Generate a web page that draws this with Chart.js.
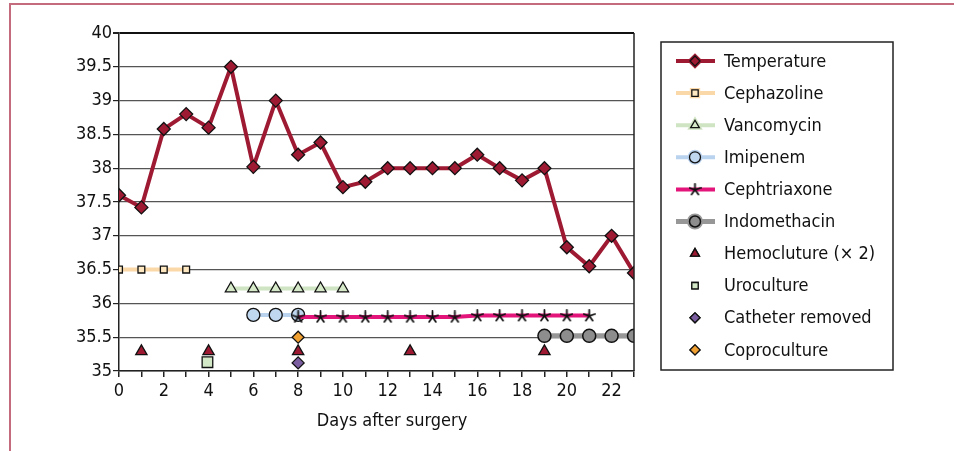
<!DOCTYPE html>
<html>
<head>
<meta charset="utf-8">
<script src="https://cdn.jsdelivr.net/npm/chart.js@4.4.1/dist/chart.umd.min.js"></script>
<style>
  html, body { margin: 0; padding: 0; background: #fff; }
  #wrap { position: relative; width: 954px; height: 451px; }
</style>
</head>
<body>
<div id="wrap"><canvas id="tempChart" width="954" height="451"></canvas></div>
<script>
// days after surgery and readings
const tempDays = [0,1,2,3,4,5,6,7,8,9,10,11,12,13,14,15,16,17,18,19,20,21,22,23];
const temperature = [37.6,37.42,38.58,38.8,38.6,39.5,38.02,39.0,38.2,38.38,37.72,37.8,38.0,38.0,38.0,38.0,38.2,38.0,37.82,38.0,36.83,36.55,37.0,36.45];

const cephazolineDays = [0,1,2,3];
const cephazolineLevel = [36.5,36.5,36.5,36.5];
const vancomycinDays = [5,6,7,8,9,10];
const vancomycinLevel = [36.22,36.22,36.22,36.22,36.22,36.22];
const imipenemDays = [6,7,8];
const imipenemLevel = [35.83,35.83,35.83];
const cephtriaxoneDays = [8,9,10,11,12,13,14,15,16,17,18,19,20,21];
const cephtriaxoneLevel = [35.8,35.8,35.8,35.8,35.8,35.8,35.8,35.8,35.82,35.82,35.82,35.82,35.82,35.82];
const indomethacinDays = [19,20,21,22,23];
const indomethacinLevel = [35.52,35.52,35.52,35.52,35.52];

const hemocultureDays = [1,4,8,13,19];
const hemocultureLevel = [35.29,35.29,35.29,35.29,35.29];
const urocultureDays = [3.95];
const urocultureLevel = [35.13];
const catheterDays = [8];
const catheterLevel = [35.12];
const coprocultureDays = [8];
const coprocultureLevel = [35.5];

const yTicks = [35,35.5,36,36.5,37,37.5,38,38.5,39,39.5,40];
const xLabelStep = 2;

const FONT = "'Liberation Sans Narrow', 'DejaVu Sans Condensed', 'Roboto Condensed', sans-serif";

function pts(days, vals) {
    return days.map((d, i) => ({ x: d, y: vals[i] }));
}

// small five-armed asterisk used for Cephtriaxone
function makeStar() {
    const c = document.createElement('canvas');
    c.width = 13; c.height = 13;
    const g = c.getContext('2d');
    g.strokeStyle = '#111';
    g.lineWidth = 1.8;
    g.lineCap = 'round';
    for (let k = 0; k < 5; k++) {
        const a = -Math.PI / 2 + k * 2 * Math.PI / 5;
        g.beginPath();
        g.moveTo(6.5, 6.8);
        g.lineTo(6.5 + Math.cos(a) * 5.8, 6.8 + Math.sin(a) * 5.8);
        g.stroke();
    }
    return c;
}
const starImg = makeStar();

function lineSet(label, days, vals, color, width, style, radius, fill, extra) {
    return Object.assign({
        label: label,
        data: pts(days, vals),
        showLine: true,
        borderColor: color,
        borderWidth: width,
        pointStyle: style,
        pointRadius: radius,
        pointBackgroundColor: fill,
        pointBorderColor: '#111',
        pointBorderWidth: 1.3,
        pointHoverRadius: radius,
        tension: 0
    }, extra || {});
}

function markSet(label, days, vals, style, radius, fill) {
    return {
        label: label,
        data: pts(days, vals),
        showLine: false,
        borderColor: fill,
        pointStyle: style,
        pointRadius: radius,
        pointBackgroundColor: fill,
        pointBorderColor: '#111',
        pointBorderWidth: 1.3,
        pointHoverRadius: radius
    };
}

const datasets = [
    lineSet('Temperature', tempDays, temperature, '#9e1a33', 4, 'rectRot', 6.5, '#9e1a33', { order: 0 }),
    lineSet('Cephazoline', cephazolineDays, cephazolineLevel, '#fbd8a8', 4, 'rect', 4.8, '#fde8c2', { order: 1 }),
    lineSet('Vancomycin', vancomycinDays, vancomycinLevel, '#cfe4c2', 4, 'triangle', 6.5, '#d6eaca', { order: 1 }),
    lineSet('Imipenem', imipenemDays, imipenemLevel, '#b9d2ee', 4, 'circle', 6.5, '#c0d7f0', { order: 2 }),
    lineSet('Cephtriaxone', cephtriaxoneDays, cephtriaxoneLevel, '#e3157b', 4, starImg, 6, '#111', { order: 1, pointBorderWidth: 0 }),
    lineSet('Indomethacin', indomethacinDays, indomethacinLevel, '#979797', 5, 'circle', 6.5, '#8d8d8d', { order: 1, pointBorderWidth: 1.5 }),
    markSet('Hemocluture (\u00d7 2)', hemocultureDays, hemocultureLevel, 'triangle', 6.5, '#9e1a33'),
    markSet('Uroculture', urocultureDays, urocultureLevel, 'rect', 7.5, '#d3e8c6'),
    markSet('Catheter removed', catheterDays, catheterLevel, 'rectRot', 6, '#7b5ea0'),
    markSet('Coproculture', coprocultureDays, coprocultureLevel, 'rectRot', 6, '#f0a030')
];

// frame, right border of the plot, axis title and the boxed legend
const decorPlugin = {
    id: 'decor',
    beforeDraw(chart) {
        const ctx = chart.ctx;
        ctx.save();
        ctx.fillStyle = '#fff';
        ctx.fillRect(0, 0, chart.width, chart.height);
        ctx.strokeStyle = '#c46b7d';
        ctx.lineWidth = 2;
        ctx.beginPath();
        ctx.moveTo(10, chart.height);
        ctx.lineTo(10, 4);
        ctx.lineTo(chart.width, 4);
        ctx.stroke();
        ctx.restore();
    },
    afterDraw(chart) {
        const ctx = chart.ctx;
        const a = chart.chartArea;
        ctx.save();
        ctx.strokeStyle = '#222';
        ctx.lineWidth = 1.5;
        ctx.beginPath();
        ctx.moveTo(a.right, a.top);
        ctx.lineTo(a.right, a.bottom);
        ctx.stroke();

        ctx.fillStyle = '#111';
        ctx.font = '18px ' + FONT;
        ctx.textAlign = 'center';
        ctx.textBaseline = 'middle';
        ctx.fillText('Days after surgery', 392, 421);

        // legend box
        const bx = 661, by = 42, bw = 232, bh = 328;
        ctx.strokeStyle = '#222';
        ctx.lineWidth = 1.5;
        ctx.strokeRect(bx, by, bw, bh);
        const step = 32.1;
        chart.data.datasets.forEach((ds, i) => {
            const y = 61 + i * step;
            if (ds.showLine) {
                ctx.strokeStyle = ds.borderColor;
                ctx.lineWidth = ds.borderWidth;
                ctx.beginPath();
                ctx.moveTo(676, y);
                ctx.lineTo(715, y);
                ctx.stroke();
            }
            const r = ds.pointStyle === 'rect' ? 4.5 : (ds.pointStyle === 'circle' ? 5.5 : 5);
            Chart.helpers.drawPoint(ctx, {
                pointStyle: ds.pointStyle,
                radius: typeof ds.pointStyle === 'string' ? r : 6,
                rotation: 0,
                borderWidth: ds.pointBorderWidth
            }, 695, y);
            ctx.fillStyle = ds.pointBackgroundColor;
            ctx.strokeStyle = ds.pointBorderColor;
            if (typeof ds.pointStyle === 'string') {
                ctx.lineWidth = ds.pointBorderWidth;
                ctx.fill();
                ctx.stroke();
            }
            ctx.fillStyle = '#111';
            ctx.font = '18px ' + FONT;
            ctx.textAlign = 'left';
            ctx.textBaseline = 'middle';
            ctx.fillText(ds.label, 724, y + 1);
        });
        ctx.restore();
    }
};

function drawTempChart() {
    const canvas = document.getElementById('tempChart');
    if (!canvas) {
        console.error("Canvas 'tempChart' not found.");
        return;
    }
    const ctx = canvas.getContext('2d');

    window.tempChart = new Chart(ctx, {
        type: 'scatter',
        data: { datasets: datasets },
        plugins: [decorPlugin],
        options: {
            responsive: false,
            animation: false,
            layout: { padding: { left: 0, top: 33, right: 320, bottom: 0 } },
            plugins: {
                legend: { display: false },
                tooltip: { enabled: false }
            },
            scales: {
                x: {
                    type: 'linear',
                    min: 0,
                    max: tempDays[tempDays.length - 1],
                    afterFit(scale) { scale.height = 80; },
                    ticks: {
                        stepSize: 1,
                        padding: 4,
                        color: '#111',
                        font: { family: FONT, size: 18 },
                        maxRotation: 0,
                        autoSkip: false,
                        callback: v => (v % xLabelStep === 0 && v < 23) ? String(v) : ''
                    },
                    grid: {
                        drawOnChartArea: false,
                        drawTicks: true,
                        tickLength: 6,
                        color: '#222',
                        lineWidth: 1.5
                    },
                    border: { display: true, color: '#222', width: 1.5 }
                },
                y: {
                    min: yTicks[0],
                    max: yTicks[yTicks.length - 1],
                    afterFit(scale) { scale.width = 119; },
                    afterBuildTicks(scale) { scale.ticks = yTicks.map(v => ({ value: v })); },
                    ticks: {
                        padding: 1,
                        color: '#111',
                        font: { family: FONT, size: 18 },
                        callback: v => String(v)
                    },
                    grid: {
                        color: c => c.tick && c.tick.value === 40 ? '#111' : '#555',
                        lineWidth: c => c.tick && c.tick.value === 40 ? 2 : 1.2,
                        tickLength: 6,
                        tickColor: '#222'
                    },
                    border: { display: true, color: '#222', width: 1.5 }
                }
            }
        }
    });
}

drawTempChart();
</script>
</body>
</html>
